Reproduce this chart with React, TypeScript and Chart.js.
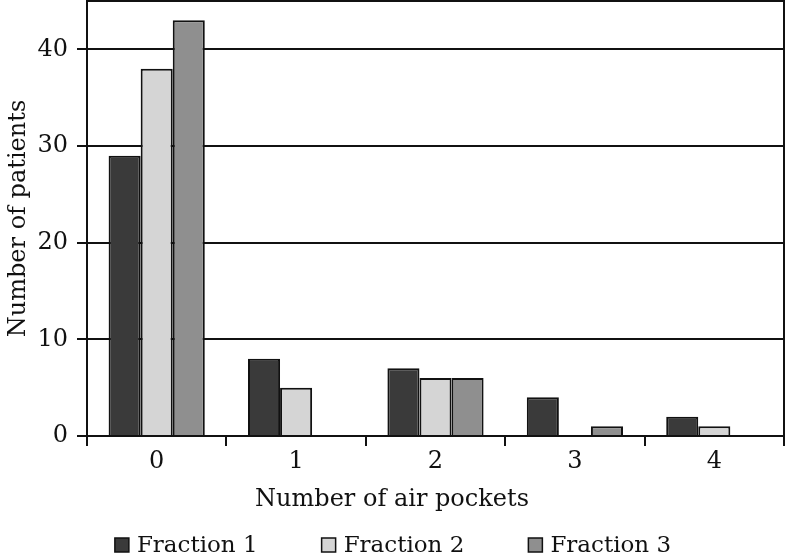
import React, { useEffect, useRef } from "react";
import { Chart, registerables } from "chart.js";

Chart.register(...registerables);

const categories = ["0", "1", "2", "3", "4"];
const fraction1 = [29, 8, 7, 4, 2];
const fraction2 = [38, 5, 6, 0, 1];
const fraction3 = [43, 0, 6, 1, 0];
const seriesNames = ["Fraction 1", "Fraction 2", "Fraction 3"];
const seriesColors = ["#3a3a3a", "#d5d5d5", "#8f8f8f"];
const yTickValues = [0, 10, 20, 30, 40];

const FONT = "DejaVu Serif";
const INK = "#111";

const frame = {
  id: "frame",
  afterDatasetsDraw(chart: any) {
    const { ctx, chartArea } = chart;
    ctx.save();
    ctx.strokeStyle = INK;
    ctx.lineWidth = 2;
    ctx.beginPath();
    ctx.moveTo(chartArea.left, chartArea.top);
    ctx.lineTo(chartArea.right, chartArea.top);
    ctx.lineTo(chartArea.right, chartArea.bottom);
    ctx.stroke();
    ctx.restore();
  },
};

const bottomLegend = {
  id: "bottomLegend",
  afterDraw(chart: any) {
    const { ctx, width } = chart;
    const box = 14;
    const gapText = 8;
    const gapItem = 64;
    const y = 545;
    ctx.save();
    ctx.font = `23px "${FONT}"`;
    ctx.textBaseline = "middle";
    ctx.textAlign = "left";
    const widths = seriesNames.map((n) => box + gapText + ctx.measureText(n).width);
    const total = widths.reduce((a, b) => a + b, 0) + gapItem * (seriesNames.length - 1);
    let x = (width - total) / 2;
    seriesNames.forEach((n, i) => {
      ctx.fillStyle = seriesColors[i];
      ctx.fillRect(x, y - box / 2, box, box);
      ctx.strokeStyle = INK;
      ctx.lineWidth = 1.5;
      ctx.strokeRect(x, y - box / 2, box, box);
      ctx.fillStyle = INK;
      ctx.fillText(n, x + box + gapText, y + 1);
      x += widths[i] + gapItem;
    });
    ctx.restore();
  },
};

export default function App() {
  const ref = useRef<HTMLCanvasElement>(null);
  useEffect(() => {
    const data = [fraction1, fraction2, fraction3];
    const chart = new Chart(ref.current!, {
      type: "bar",
      data: {
        labels: categories,
        datasets: data.map((d, i) => ({
          label: seriesNames[i],
          data: d,
          backgroundColor: seriesColors[i],
          borderColor: INK,
          borderWidth: 2,
          categoryPercentage: 0.69,
          barPercentage: 1,
        })),
      },
      options: {
        responsive: false,
        animation: false,
        layout: { padding: { top: 1, right: 2, left: 0, bottom: 42 } },
        plugins: {
          tooltip: { enabled: false },
          legend: { display: false },
          title: {
            display: true,
            position: "bottom",
            text: "Number of air pockets",
            font: { family: FONT, size: 24, weight: "normal" },
            color: INK,
            padding: { top: 6, bottom: 0 },
          },
        },
        scales: {
          x: {
            grid: {
              drawOnChartArea: false,
              drawTicks: true,
              tickLength: 10,
              color: INK,
              lineWidth: 2,
              offset: true,
            },
            border: { color: INK, width: 2 },
            ticks: { font: { family: FONT, size: 24 }, color: INK, padding: 1 },
            afterFit: (s: any) => {
              s.height = 43.2;
              s.paddingLeft = 0;
              s.paddingRight = 0;
            },
          },
          y: {
            min: 0,
            max: 45,
            ticks: { stepSize: 10, font: { family: FONT, size: 24 }, color: INK, padding: 9 },
            afterBuildTicks: (s: any) => {
              s.ticks = yTickValues.map((v) => ({ value: v }));
            },
            grid: { color: INK, lineWidth: 2, tickLength: 10 },
            border: { color: INK, width: 2 },
            title: {
              display: true,
              text: "Number of patients",
              font: { family: FONT, size: 24 },
              color: INK,
              padding: { top: 4, bottom: 0 },
            },
            afterFit: (s: any) => {
              s.width = 87;
              s.paddingTop = 0;
              s.paddingBottom = 0;
            },
          },
        },
      },
      plugins: [frame, bottomLegend],
    });
    return () => chart.destroy();
  }, []);
  return (
    <div style={{ position: "fixed", left: 0, top: 0, width: 786, height: 556, background: "#fff" }}>
      <canvas ref={ref} width={786} height={556} style={{ display: "block" }} />
    </div>
  );
}
